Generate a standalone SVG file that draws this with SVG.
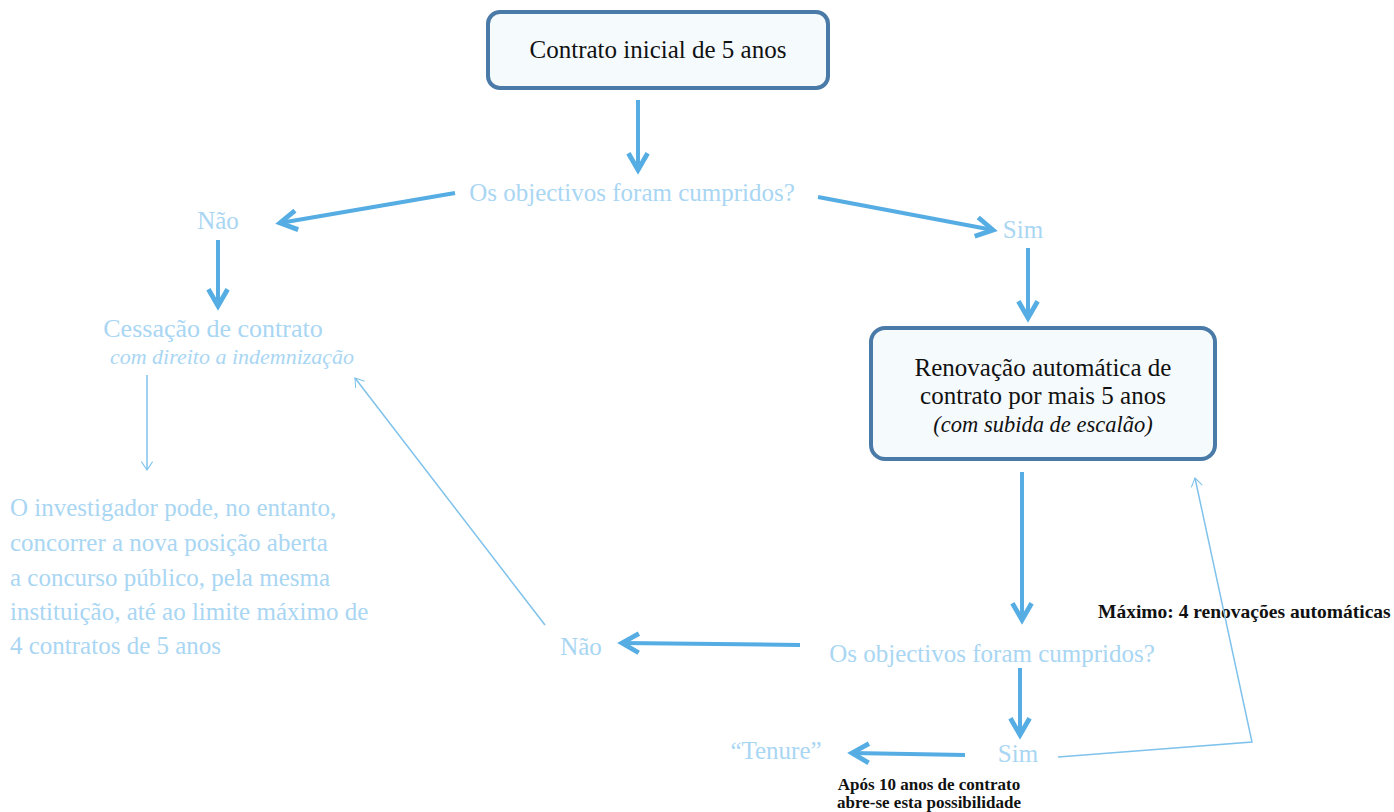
<svg xmlns="http://www.w3.org/2000/svg" width="1394" height="812" viewBox="0 0 1394 812">
<defs>
<style>
.box{fill:#f5fafd;stroke:#4a7ba8;stroke-width:4}
.bt{font-family:"Liberation Serif","DejaVu Serif",serif;font-size:25px;fill:#111;text-anchor:middle}
.lt{font-family:"Liberation Serif","DejaVu Serif",serif;font-size:25px;fill:#a9d6f3}
.note{font-family:"Liberation Serif","DejaVu Serif",serif;font-weight:bold;fill:#111}
.thick{stroke:#55ade3;stroke-width:4;fill:none;marker-end:url(#ah)}
.thin{stroke:#7fc2ec;stroke-width:1.5;fill:none}
</style>
<marker id="ah" viewBox="0 0 10 10" refX="8" refY="5" markerWidth="6" markerHeight="6" orient="auto" markerUnits="strokeWidth">
<path d="M1,1 L8,5 L1,9" fill="none" stroke="#55ade3" stroke-width="2" stroke-linejoin="miter"/>
</marker>
<marker id="ahThin" viewBox="0 0 20 20" refX="18" refY="10" markerWidth="14" markerHeight="14" orient="auto" markerUnits="userSpaceOnUse">
<path d="M6,2 L18,10 L6,18" fill="none" stroke="#7fc2ec" stroke-width="1.5"/>
</marker>
</defs>
<rect width="1394" height="812" fill="#fff"/>

<g id="node-contrato-inicial">
<rect class="box" x="488" y="12" width="340" height="76" rx="12"/>
<text class="bt" x="658" y="58">Contrato inicial de 5 anos</text>
</g>

<g id="node-q1">
<text class="lt" x="632" y="201" text-anchor="middle">Os objectivos foram cumpridos?</text>
</g>
<g id="node-nao1"><text class="lt" x="218" y="229" text-anchor="middle">Não</text></g>
<g id="node-sim1"><text class="lt" x="1023" y="238" text-anchor="middle">Sim</text></g>

<g id="node-cessacao">
<text class="lt" x="213" y="337" text-anchor="middle" style="font-size:26px">Cessação de contrato</text>
<text class="lt" x="232" y="364" text-anchor="middle" style="font-size:22px;font-style:italic">com direito a indemnização</text>
</g>

<g id="node-investigador">
<text class="lt" x="10" y="516">O investigador pode, no entanto,</text>
<text class="lt" x="10" y="551">concorrer a nova posição aberta</text>
<text class="lt" x="10" y="586">a concurso público, pela mesma</text>
<text class="lt" x="10" y="620">instituição, até ao limite máximo de</text>
<text class="lt" x="10" y="654">4 contratos de 5 anos</text>
</g>

<g id="node-renovacao">
<rect class="box" x="871" y="328" width="344" height="131" rx="14"/>
<text class="bt" x="1043" y="376">Renovação automática de</text>
<text class="bt" x="1043" y="404">contrato por mais 5 anos</text>
<text class="bt" x="1043" y="432" style="font-size:22.5px;font-style:italic">(com subida de escalão)</text>
</g>

<g id="node-maximo">
<text class="note" x="1098" y="618" font-size="19.5">Máximo: 4 renovações automáticas</text>
</g>

<g id="node-q2">
<text class="lt" x="992" y="662" text-anchor="middle">Os objectivos foram cumpridos?</text>
</g>
<g id="node-nao2"><text class="lt" x="581" y="655" text-anchor="middle">Não</text></g>
<g id="node-sim2"><text class="lt" x="1018" y="762" text-anchor="middle">Sim</text></g>
<g id="node-tenure"><text class="lt" x="776" y="759" text-anchor="middle">“Tenure”</text></g>
<g id="node-apos">
<text class="note" x="929" y="790" font-size="17" text-anchor="middle">Após 10 anos de contrato</text>
<text class="note" x="929" y="808" font-size="17" text-anchor="middle">abre-se esta possibilidade</text>
</g>

<g id="connectors">
<line class="thick" x1="638" y1="100" x2="638" y2="170"/>
<line class="thick" x1="455" y1="193" x2="280" y2="223"/>
<line class="thick" x1="818" y1="197" x2="993" y2="230"/>
<line class="thick" x1="218" y1="240" x2="218" y2="306"/>
<line class="thick" x1="1028" y1="248" x2="1028" y2="318"/>
<line class="thin" x1="147" y1="375" x2="147" y2="470" marker-end="url(#ahThin)"/>
<line class="thick" x1="1022" y1="472" x2="1022" y2="620"/>
<line class="thick" x1="800" y1="645" x2="622" y2="643"/>
<line class="thin" x1="545" y1="625" x2="355" y2="378" marker-end="url(#ahThin)"/>
<line class="thick" x1="1020" y1="668" x2="1020" y2="735"/>
<line class="thick" x1="965" y1="755" x2="852" y2="753"/>
<polyline class="thin" points="1058,757 1252,742 1195,478" marker-end="url(#ahThin)"/>
</g>
</svg>
